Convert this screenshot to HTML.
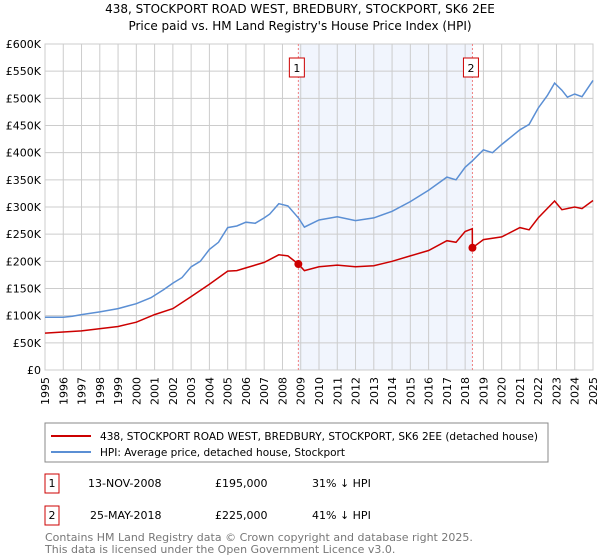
<!DOCTYPE html>
<html><head><meta charset="utf-8"><style>
body{margin:0;width:600px;height:560px;background:#fff;font-family:"DejaVu Sans","Liberation Sans",sans-serif;overflow:hidden}
svg{position:absolute;left:0;top:0}
</style></head><body>
<svg width="600" height="560" id="c">
<text x="300" y="13" text-anchor="middle" font-size="12">438, STOCKPORT ROAD WEST, BREDBURY, STOCKPORT, SK6 2EE</text>
<text x="300" y="30" text-anchor="middle" font-size="12">Price paid vs. HM Land Registry's House Price Index (HPI)</text>
<g id="plot"></g>
<rect x="45" y="423" width="503" height="39" fill="#fff" stroke="#888"/>
<line x1="51" y1="436" x2="91" y2="436" stroke="#cc0000" stroke-width="2"/>
<text x="100" y="440" font-size="11" textLength="438" lengthAdjust="spacingAndGlyphs">438, STOCKPORT ROAD WEST, BREDBURY, STOCKPORT, SK6 2EE (detached house)</text>
<line x1="51" y1="452" x2="91" y2="452" stroke="#5b8fd4" stroke-width="2"/>
<text x="100" y="456" font-size="11" textLength="245" lengthAdjust="spacingAndGlyphs">HPI: Average price, detached house, Stockport</text>
<g font-size="11">
<rect x="45" y="474" width="14" height="19" fill="#fff" stroke="#cc0000"/><text x="52" y="487" text-anchor="middle">1</text>
<text x="88" y="487">13-NOV-2008</text><text x="215" y="487">£195,000</text><text x="312" y="487">31% ↓ HPI</text></g>
<g font-size="11">
<rect x="45" y="506" width="14" height="19" fill="#fff" stroke="#cc0000"/><text x="52" y="519" text-anchor="middle">2</text>
<text x="90" y="519">25-MAY-2018</text><text x="215" y="519">£225,000</text><text x="312" y="519">41% ↓ HPI</text></g>
<text x="45" y="541" font-size="11" fill="#777">Contains HM Land Registry data © Crown copyright and database right 2025.</text>
<text x="45" y="553" font-size="11" fill="#777">This data is licensed under the Open Government Licence v3.0.</text>
</svg>
<script>
const yTicks=[0,50000,100000,150000,200000,250000,300000,350000,400000,450000,500000,550000,600000];
const yTickLabels=["£0","£50K","£100K","£150K","£200K","£250K","£300K","£350K","£400K","£450K","£500K","£550K","£600K"];
const xYears=[1995,1996,1997,1998,1999,2000,2001,2002,2003,2004,2005,2006,2007,2008,2009,2010,2011,2012,2013,2014,2015,2016,2017,2018,2019,2020,2021,2022,2023,2024,2025];
const hpiDates=[1995,1996,1996.5,1997,1998,1999,2000,2000.8,2001.5,2002,2002.5,2003,2003.5,2004,2004.5,2005,2005.5,2006,2006.5,2007,2007.3,2007.8,2008.3,2008.87,2009.2,2010,2011,2012,2013,2014,2015,2016,2017,2017.5,2018,2018.4,2019,2019.5,2020,2021,2021.5,2022,2022.5,2022.9,2023.3,2023.6,2024,2024.4,2025];
const hpiValues=[97000,97000,99000,102000,107000,113000,122000,133000,148000,160000,170000,190000,200000,222000,235000,262000,265000,272000,270000,280000,287000,306000,302000,280000,263000,276000,282000,275000,280000,292000,310000,331000,355000,350000,373000,385000,405000,400000,415000,442000,452000,482000,505000,528000,515000,502000,508000,503000,533000];
const priceDates=[1995,1997,1999,2000,2001,2002,2003,2004,2005,2005.5,2006,2007,2007.8,2008.3,2008.87,2009.2,2010,2011,2012,2013,2014,2015,2016,2017,2017.5,2018,2018.39,2018.4,2019,2020,2021,2021.5,2022,2022.9,2023.3,2024,2024.4,2025];
const priceValues=[68000,72000,80000,88000,102000,113000,135000,158000,182000,183000,188000,198000,212000,210000,195000,183000,190000,193000,190000,192000,200000,210000,220000,238000,235000,255000,260000,225000,240000,245000,262000,258000,280000,311000,295000,300000,297000,312000];
const sales=[{d:2008.87,v:195000,n:"1"},{d:2018.4,v:225000,n:"2"}];
const X0=45,X1=593,Y0=370,Y1=44;
const x=d=>X0+(d-1995)/30*(X1-X0);
const y=v=>Y0-v/600000*(Y0-Y1);
const ns="http://www.w3.org/2000/svg",g=document.getElementById('plot');
function mk(t,a,p){const e=document.createElementNS(ns,t);for(const k in a)e.setAttribute(k,a[k]);(p||g).appendChild(e);return e;}
let e=mk('rect',{x:x(sales[0].d),y:Y1,width:x(sales[1].d)-x(sales[0].d),height:Y0-Y1,fill:'#eef3fd',opacity:0.8});


yTicks.forEach((v,i)=>{let l=mk('line',{x1:X0,x2:X1,y1:y(v),y2:y(v),stroke:'#ccc'});


let t=mk('text',{x:41,y:y(v)+4,'text-anchor':'end','font-size':11});t.textContent=yTickLabels[i];

});
xYears.forEach(yr=>{let l=mk('line',{x1:x(yr),x2:x(yr),y1:Y1,y2:Y0,stroke:'#ccc'});


let t=mk('text',{x:x(yr)+4,y:377,'text-anchor':'end','font-size':11,transform:`rotate(-90 ${x(yr)+4} 377)`});t.textContent=yr;

});
e=mk('rect',{x:X0,y:Y1,width:X1-X0,height:Y0-Y1,fill:'none',stroke:'#ccc'});


sales.forEach(s=>{let l=mk('line',{x1:x(s.d),x2:x(s.d),y1:Y1,y2:Y0,stroke:'#f08080','stroke-dasharray':'2,2'});


let r=mk('rect',{x:x(s.d)-9,y:58,width:15,height:19,fill:'#fff',stroke:'#cc0000'});


let t=mk('text',{x:x(s.d)-1.5,y:72,'text-anchor':'middle','font-size':11});t.textContent=s.n;

});
const path=(ds,vs)=>ds.map((d,i)=>(i?'L':'M')+x(d).toFixed(1)+' '+y(vs[i]).toFixed(1)).join('');
e=mk('path',{d:path(hpiDates,hpiValues),fill:'none',stroke:'#5b8fd4','stroke-width':1.5});


e=mk('path',{d:path(priceDates,priceValues),fill:'none',stroke:'#cc0000','stroke-width':1.5});


sales.forEach(s=>{let c=mk('circle',{cx:x(s.d),cy:y(s.v),r:4,fill:'#cc0000'});

});
</script>
</body></html>
